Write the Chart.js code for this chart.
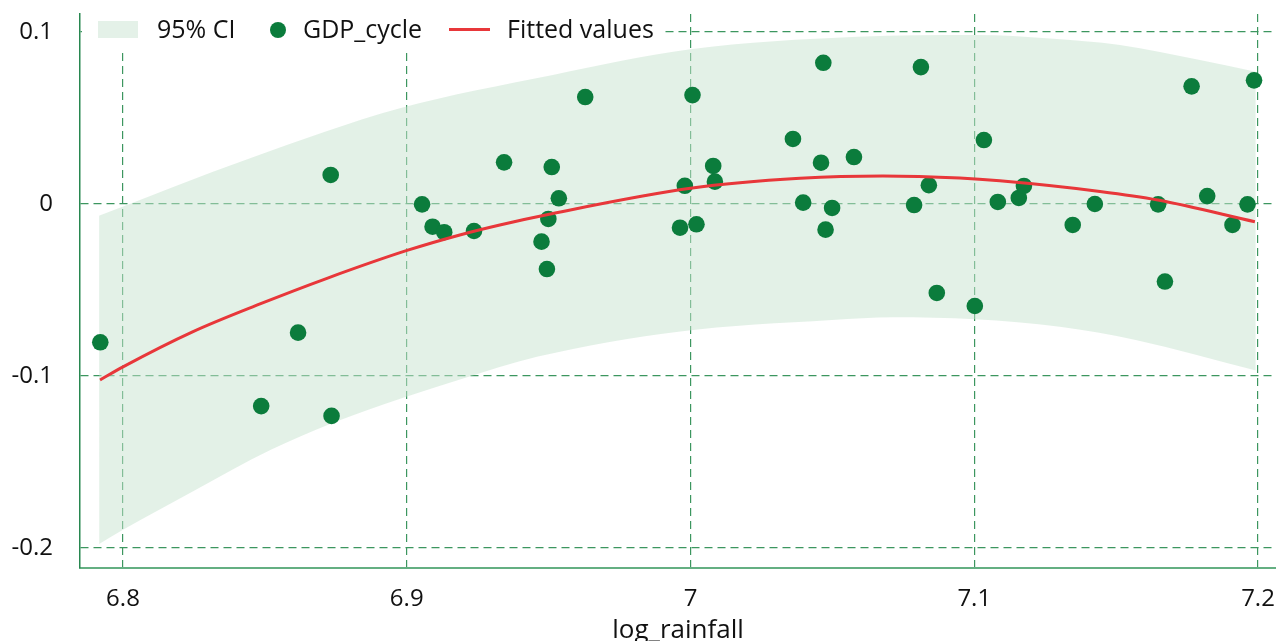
<!DOCTYPE html>
<html>
<head>
<meta charset="utf-8">
<script src="https://cdn.jsdelivr.net/npm/chart.js@4/dist/chart.umd.min.js"></script>
<style>
html,body{margin:0;padding:0;background:#fff;}
#wrap{width:1276px;height:641px;position:relative;}
</style>
</head>
<body>
<div id="wrap"><canvas id="c" width="1276" height="641"></canvas></div>
<script>
// ---- data ----
const xTickValues = [6.8, 6.9, 7.0, 7.1, 7.2];
const xTickLabels = ['6.8', '6.9', '7', '7.1', '7.2'];
const yTickValues = [-0.2, -0.1, 0, 0.1];
const yTickLabels = ['-0.2', '-0.1', '0', '0.1'];

const gdpX = [6.7920, 6.8487, 6.8617, 6.8732, 6.8735, 6.9054, 6.9091, 6.9132, 6.9237, 6.9343,
              6.9475, 6.9499, 6.9494, 6.9511, 6.9536, 6.9629, 6.9963, 6.9980, 7.0007, 7.0021,
              7.0080, 7.0086, 7.0361, 7.0397, 7.0468, 7.0460, 7.0476, 7.0499, 7.0576, 7.0788,
              7.0812, 7.0840, 7.0868, 7.1002, 7.1034, 7.1083, 7.1157, 7.1175, 7.1347, 7.1425,
              7.1648, 7.1672, 7.1766, 7.1821, 7.1910, 7.1963, 7.1986];
const gdpY = [-0.0804, -0.1175, -0.0748, 0.0169, -0.1232, -0.0002, -0.0132, -0.0164, -0.0157, 0.0242,
              -0.0219, -0.0087, -0.0378, 0.0215, 0.0033, 0.0622, -0.0138, 0.0106, 0.0633, -0.0118,
              0.0221, 0.0130, 0.0378, 0.0008, 0.0821, 0.0240, -0.0149, -0.0023, 0.0273, -0.0006,
              0.0796, 0.0109, -0.0517, -0.0593, 0.0372, 0.0012, 0.0035, 0.0105, -0.0122, 0.0000,
              -0.0002, -0.0451, 0.0684, 0.0046, -0.0122, -0.0002, 0.0719];

const fitX = [6.7919, 6.8000, 6.8247, 6.8483, 6.8719, 6.9001, 6.9187, 6.9328, 6.9498, 7.0000,
              7.0386, 7.0678, 7.0949, 7.1090, 7.1443, 7.1647, 7.1989];
const fitY = [-0.1023, -0.0947, -0.0742, -0.0581, -0.0432, -0.0270, -0.0180, -0.0122, -0.0061, 0.0091,
              0.0149, 0.0163, 0.0151, 0.0135, 0.0073, 0.0023, -0.0103];

const ciUpX = [6.7915, 6.8448, 6.8976, 6.9515, 7.0000, 7.0590, 7.1006, 7.1266, 7.1513, 7.1795, 7.1992];
const ciUpY = [-0.0068, 0.0266, 0.0556, 0.0750, 0.0899, 0.0972, 0.0982, 0.0962, 0.0924, 0.0837, 0.0769];

const ciLoX = [6.7916, 6.8000, 6.8252, 6.8521, 6.8736, 6.8998, 6.9193, 6.9462, 6.9957, 7.0498, 7.0713, 7.1004, 7.1302, 7.1569, 7.1995];
const ciLoY = [-0.1977, -0.1894, -0.1665, -0.1429, -0.1274, -0.1120, -0.1017, -0.0887, -0.0742, -0.0674, -0.0658, -0.0670, -0.0713, -0.0790, -0.0969];

const legendLabels = ['95% CI', 'GDP_cycle', 'Fitted values'];
const axisTitleX = 'log_rainfall';

// ---- styles ----
const FONT = '"Open Sans", "Noto Sans", sans-serif';
const dotColor = '#0b7c3c';
const lineColor = '#e8373a';
const bandColor = 'rgba(200,228,208,0.5)';
const bandSwatch = 'rgb(228,241,232)';
const gridColor = 'rgb(60,150,95)';

const toXY = (xs, ys) => xs.map((x, i) => ({x: x, y: ys[i]}));

const insideLegend = {
  id: 'insideLegend',
  beforeDatasetsDraw(chart) {
    const ctx = chart.ctx, a = chart.chartArea;
    ctx.save();
    ctx.fillStyle = '#fff';
    ctx.fillRect(a.left + 2, a.top, 582, 39);
    ctx.restore();
  },
  afterDatasetsDraw(chart) {
    const ctx = chart.ctx, a = chart.chartArea;
    const L = a.left, cy = a.top + 17;
    ctx.save();
    ctx.fillStyle = bandSwatch;
    ctx.fillRect(L + 18, a.top + 7, 40, 17);
    ctx.fillStyle = dotColor;
    ctx.beginPath(); ctx.arc(L + 198, cy - 1, 8, 0, Math.PI * 2); ctx.fill();
    ctx.strokeStyle = lineColor; ctx.lineWidth = 3;
    ctx.beginPath(); ctx.moveTo(L + 369, cy - 1.5); ctx.lineTo(L + 410, cy - 1.5); ctx.stroke();
    ctx.fillStyle = '#111';
    ctx.font = '25px ' + FONT;
    ctx.textBaseline = 'middle';
    ctx.fillText(legendLabels[0], L + 77, cy);
    ctx.fillText(legendLabels[1], L + 223, cy);
    ctx.fillText(legendLabels[2], L + 427, cy);
    ctx.restore();
  }
};

new Chart(document.getElementById('c'), {
  type: 'line',
  data: {
    datasets: [
      {
        label: 'Fitted values',
        data: toXY(fitX, fitY),
        borderColor: lineColor, borderWidth: 3,
        pointRadius: 0, fill: false,
        cubicInterpolationMode: 'monotone',
        order: 0
      },
      {
        label: 'GDP_cycle',
        data: toXY(gdpX, gdpY),
        showLine: false,
        pointRadius: 8.3, pointHoverRadius: 8.3,
        pointBackgroundColor: dotColor, pointBorderWidth: 0,
        borderColor: dotColor,
        order: 1
      },
      {
        label: '95% CI upper',
        data: toXY(ciUpX, ciUpY),
        borderWidth: 0, borderColor: 'rgba(0,0,0,0)',
        pointRadius: 0,
        backgroundColor: bandColor,
        fill: '+1',
        cubicInterpolationMode: 'monotone',
        order: 2
      },
      {
        label: '95% CI lower',
        data: toXY(ciLoX, ciLoY),
        borderWidth: 0, borderColor: 'rgba(0,0,0,0)',
        pointRadius: 0,
        fill: false,
        cubicInterpolationMode: 'monotone',
        order: 3
      }
    ]
  },
  options: {
    responsive: false,
    animation: false,
    events: [],
    layout: { autoPadding: false, padding: { top: 14, right: 0, left: 0, bottom: 0 } },
    plugins: { legend: { display: false }, tooltip: { enabled: false } },
    scales: {
      x: {
        type: 'linear',
        min: 6.78485, max: 7.20634,
        afterBuildTicks: s => { s.ticks = xTickValues.map(v => ({value: v})); },
        afterFit: s => { s.height = 73; s.paddingLeft = 0; s.paddingRight = 0; },
        ticks: {
          callback: (v) => { const i = xTickValues.findIndex(t => Math.abs(t - v) < 1e-9); return i >= 0 ? xTickLabels[i] : ''; },
          font: { family: FONT, size: 24 }, color: '#111', padding: 17, maxRotation: 0, autoSkip: false
        },
        grid: { color: gridColor, lineWidth: 1.2, drawTicks: false, tickLength: 0 },
        border: { display: true, color: 'rgb(100,175,130)', width: 2, dash: [8, 5] },
        title: { display: true, text: axisTitleX, font: { family: FONT, size: 26, lineHeight: 1 }, color: '#111', padding: { top: 0, bottom: -3 } }
      },
      y: {
        type: 'linear',
        min: -0.21162, max: 0.11046,
        afterBuildTicks: s => { s.ticks = yTickValues.map(v => ({value: v})); },
        afterFit: s => { s.width = 80; s.paddingTop = 0; s.paddingBottom = 0; },
        ticks: {
          callback: (v) => { const i = yTickValues.findIndex(t => Math.abs(t - v) < 1e-9); return i >= 0 ? yTickLabels[i] : ''; },
          font: { family: FONT, size: 24 }, color: '#111', padding: 27
        },
        grid: { color: gridColor, lineWidth: 1.2, drawTicks: false, tickLength: 0 },
        border: { display: true, color: 'rgb(40,135,80)', width: 1.5, dash: [8, 5] }
      }
    }
  },
  plugins: [insideLegend]
});
</script>
</body>
</html>
